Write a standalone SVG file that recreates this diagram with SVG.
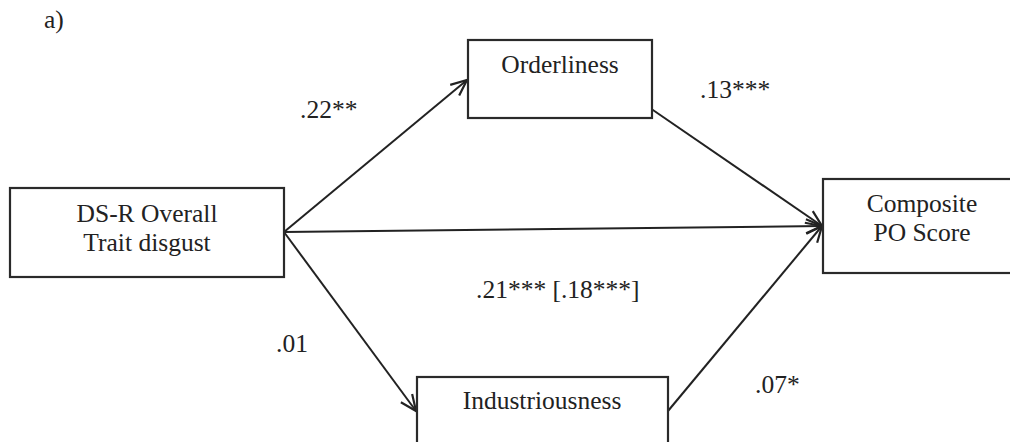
<svg xmlns="http://www.w3.org/2000/svg" width="1010" height="442" viewBox="0 0 1010 442">
<style>
.box{fill:#fff;stroke:#2a2a2a;stroke-width:2.2}
.t{font-family:"Liberation Serif","Times New Roman",serif;font-size:25.5px;fill:#222}
.c{stroke:#222;stroke-width:2;fill:none}
</style>
<defs>
<marker id="arr" markerUnits="userSpaceOnUse" markerWidth="30" markerHeight="30" viewBox="-20 -15 30 30" refX="0" refY="0" orient="auto">
<path d="M-16,-7 L0,0 L-16,7" fill="none" stroke="#222" stroke-width="2.2"/>
</marker>
</defs>
<rect width="1010" height="442" fill="#fff"/>
<text class="t" x="44" y="28">a)</text>
<g id="connectors">
<line class="c" x1="284" y1="232" x2="467" y2="80" marker-end="url(#arr)"/>
<line class="c" x1="284" y1="232" x2="822" y2="226" marker-end="url(#arr)"/>
<line class="c" x1="284" y1="232" x2="416" y2="411" marker-end="url(#arr)"/>
<line class="c" x1="650" y1="108" x2="822" y2="226" marker-end="url(#arr)"/>
<line class="c" x1="668" y1="411" x2="822" y2="226" marker-end="url(#arr)"/>
</g>
<g id="labels">
<text class="t" x="300" y="118">.22**</text>
<text class="t" x="700" y="98">.13***</text>
<text class="t" x="276" y="352">.01</text>
<text class="t" x="755" y="393">.07*</text>
<text class="t" x="476" y="298">.21*** [.18***]</text>
</g>
<g id="ds-r">
<rect class="box" x="10" y="188" width="274" height="89"/>
<text class="t" x="147" y="222" text-anchor="middle">DS-R Overall</text>
<text class="t" x="147" y="251" text-anchor="middle">Trait disgust</text>
</g>
<g id="orderliness">
<rect class="box" x="468" y="40" width="184" height="78"/>
<text class="t" x="560" y="73" text-anchor="middle">Orderliness</text>
</g>
<g id="composite">
<rect class="box" x="823" y="179" width="200" height="94"/>
<text class="t" x="922" y="212" text-anchor="middle">Composite</text>
<text class="t" x="922" y="241" text-anchor="middle">PO Score</text>
</g>
<g id="industriousness">
<rect class="box" x="417" y="377" width="251" height="90"/>
<text class="t" x="542" y="409" text-anchor="middle">Industriousness</text>
</g>
</svg>
